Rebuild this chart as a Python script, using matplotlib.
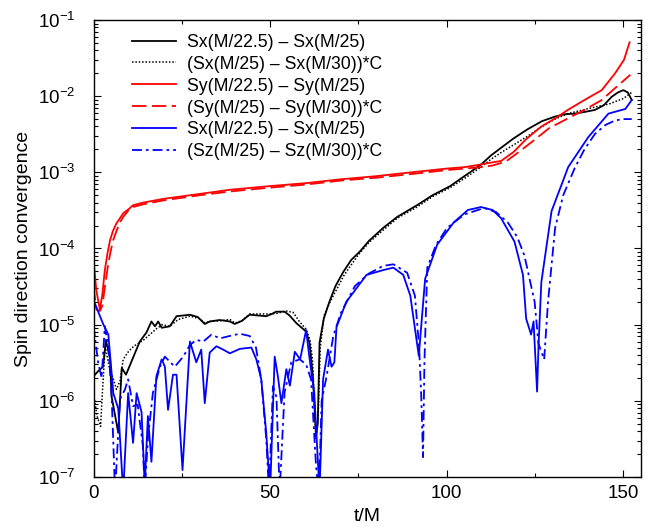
import matplotlib
matplotlib.use("Agg")
import matplotlib.pyplot as plt
from matplotlib.ticker import LogFormatterSciNotation, NullFormatter

plt.rcParams['font.family'] = ['Liberation Sans', 'DejaVu Sans']
plt.rcParams['mathtext.fontset'] = 'custom'
plt.rcParams['mathtext.rm'] = 'Liberation Sans'
plt.rcParams['mathtext.it'] = 'Liberation Sans:italic'
plt.rcParams['mathtext.bf'] = 'Liberation Sans:bold'

# ---------------- data ----------------
labels = [
    "Sx(M/22.5) \u2013 Sx(M/25)",
    "(Sx(M/25) \u2013 Sx(M/30))*C",
    "Sy(M/22.5) \u2013 Sy(M/25)",
    "(Sy(M/25) \u2013 Sy(M/30))*C",
    "Sx(M/22.5) \u2013 Sx(M/25)",
    "(Sz(M/25) \u2013 Sz(M/30))*C",
]

t_sx_a = [0, 1.5, 2.7, 3.5, 4.7, 5.1, 7.0, 8.0, 9.2, 11, 13.1, 15, 16.4, 17.4, 18.3, 19.3,
          21.6, 23.5, 25.5, 27.3, 29.5, 31.5, 32.9, 35.7, 38.6, 40, 42, 44.2, 46.5, 48.9,
          50.5, 51.7, 54.1, 55.5, 57.4, 60.2, 61.2, 62.1, 63.0, 63.5, 64, 65.2, 66.8, 68.5,
          70.7, 73, 75.4, 78, 82, 86, 91.6, 96, 101, 105, 109.7, 112.5, 115.4, 119, 123,
          127, 130.7, 133.5, 136.3, 139, 142, 144.5, 146.7, 148.5, 150, 151.3, 152.4]
sx_a = [2.1e-6, 2.5e-6, 2.8e-6, 6.3e-6, 3.5e-6, 1.15e-6, 3.8e-7, 2.7e-6, 2.2e-6, 3.5e-6,
        6.0e-6, 7.9e-6, 1.10e-5, 9.5e-6, 1.10e-5, 9.1e-6, 9.5e-6, 1.29e-5, 1.32e-5, 1.35e-5,
        1.26e-5, 1.02e-5, 1.10e-5, 1.15e-5, 1.10e-5, 1.02e-5, 1.12e-5, 1.35e-5, 1.32e-5,
        1.29e-5, 1.38e-5, 1.48e-5, 1.48e-5, 1.32e-5, 1.05e-5, 8.1e-6, 5.6e-6, 2.1e-6,
        3.4e-7, 5.0e-7, 5.8e-6, 1.20e-5, 2.0e-5, 3.2e-5, 4.9e-5, 7.1e-5, 9.1e-5, 1.26e-4,
        1.86e-4, 2.6e-4, 3.7e-4, 5.0e-4, 6.6e-4, 8.9e-4, 1.26e-3, 1.66e-3, 2.1e-3, 2.8e-3,
        3.7e-3, 4.7e-3, 5.4e-3, 5.8e-3, 5.9e-3, 6.2e-3, 6.6e-3, 7.6e-3, 9.8e-3, 1.12e-2,
        1.20e-2, 1.12e-2, 8.9e-3]

t_sx_b = [0, 1.0, 2.0, 2.5, 3.3, 4.5, 5.5, 6.5, 7.5, 8.4, 10, 11.4, 14.2, 17.9, 19.5, 21.6,
          24, 27.3, 30, 31.5, 33, 35.7, 38.6, 40, 42, 44.2, 48, 50, 52, 54.5, 56.5, 58.3,
          60.2, 61.3, 62.0, 63.0, 63.6, 64.2, 65.3, 67, 69, 71, 75, 78, 82, 86, 91.6, 96,
          101, 105, 109.7, 112.5, 115.4, 119, 123, 127, 130.7, 134.3, 138, 142, 146, 150, 152.4]
sx_b = [1.26e-6, 6.3e-7, 4.6e-7, 1.26e-6, 5.2e-6, 2.7e-6, 2.0e-6, 1.41e-6, 1.82e-6, 3.5e-6,
        4.5e-6, 5.2e-6, 6.3e-6, 8.9e-6, 1.0e-5, 9.5e-6, 1.17e-5, 1.29e-5, 1.20e-5, 1.05e-5,
        1.10e-5, 1.12e-5, 1.17e-5, 1.05e-5, 1.12e-5, 1.38e-5, 1.38e-5, 1.38e-5, 1.41e-5,
        1.51e-5, 1.45e-5, 1.10e-5, 8.7e-6, 6.3e-6, 3.5e-6, 3.2e-7, 6.3e-7, 5.0e-6, 1.32e-5,
        2.0e-5, 3.0e-5, 4.5e-5, 8.3e-5, 1.20e-4, 1.74e-4, 2.5e-4, 3.5e-4, 4.8e-4, 6.3e-4,
        8.3e-4, 1.17e-3, 1.48e-3, 1.82e-3, 2.3e-3, 3.0e-3, 4.0e-3, 5.0e-3, 5.9e-3, 6.5e-3,
        7.2e-3, 7.9e-3, 9.3e-3, 1.12e-2]

t_sy_a = [0, 0.8, 1.8, 2.5, 3.2, 4.0, 4.7, 5.5, 6.5, 7.5, 8.4, 10, 11.2, 14, 20, 30, 38.6,
          50, 60, 70, 80, 90, 100, 105, 108, 111.6, 115.4, 119, 122.4, 126.8, 130.7, 134.3,
          139, 143.9, 147.7, 150.2, 151.8]
sy_a = [7.1e-5, 2.8e-5, 1.58e-5, 2.5e-5, 5.2e-5, 8.9e-5, 1.29e-4, 1.70e-4, 2.14e-4, 2.5e-4,
        2.9e-4, 3.3e-4, 3.7e-4, 4.0e-4, 4.5e-4, 5.2e-4, 5.9e-4, 6.6e-4, 7.2e-4, 8.1e-4,
        8.9e-4, 1.0e-3, 1.12e-3, 1.17e-3, 1.23e-3, 1.32e-3, 1.41e-3, 1.86e-3, 2.7e-3,
        4.0e-3, 5.1e-3, 6.6e-3, 8.9e-3, 1.20e-2, 2.0e-2, 3.0e-2, 5.1e-2]

t_sy_b = [0, 0.8, 1.8, 2.5, 3.2, 4.0, 4.7, 5.5, 6.5, 7.5, 8.4, 10, 11.2, 14, 20, 30, 38.6,
          50, 60, 70, 80, 90, 100, 105, 110, 113, 116.7, 120.5, 125, 129, 134.3, 139, 143.9,
          147.8, 152]
sy_b = [3.2e-5, 1.58e-5, 1.51e-5, 1.78e-5, 3.1e-5, 5.6e-5, 8.5e-5, 1.26e-4, 1.70e-4, 2.2e-4,
        2.6e-4, 3.2e-4, 3.5e-4, 3.8e-4, 4.3e-4, 5.0e-4, 5.6e-4, 6.3e-4, 6.9e-4, 7.8e-4,
        8.5e-4, 9.5e-4, 1.07e-3, 1.12e-3, 1.17e-3, 1.23e-3, 1.38e-3, 1.86e-3, 2.7e-3,
        3.8e-3, 5.1e-3, 6.6e-3, 8.9e-3, 1.29e-2, 1.91e-2]

t_sz_a = [0, 1.5, 2.8, 4.2, 5.6, 7.0, 8.4, 9.8, 11.2, 12.2, 13.6, 14.5, 15.4, 16.4, 17.8,
          19.3, 20.2, 21.1, 22.5, 23.5, 25.2, 27.3, 29.1, 30.5, 31.5, 32.9, 34.8, 36.7, 38.6,
          41.4, 43, 44.7, 46.1, 47.5, 48.9, 50, 51.3, 52.2, 53.2, 54.6, 55.6, 57, 58.5, 60.2,
          61.1, 62.5, 64, 65, 66.4, 67.4, 68.2, 68.8, 71.6, 77.3, 82, 84.9, 87.7, 89.7, 92.1,
          93.9, 97.3, 102, 106, 109.7, 113, 115.4, 119.2, 121.6, 122.5, 123.9, 124.6, 125.6,
          126, 126.8, 129.7, 134.4, 140.1, 145.8, 148, 150.6, 152.4]
sz_a = [2.1e-5, 1.41e-5, 1.0e-5, 7.4e-6, 1.26e-6, 7.9e-7, 6.3e-8, 1.26e-6, 2.8e-7, 1.26e-6,
        7.1e-7, 7.9e-8, 6.3e-7, 1.58e-7, 2.1e-6, 3.5e-6, 2.8e-6, 7.6e-7, 2.2e-6, 2.2e-6,
        1.23e-7, 6.0e-6, 3.2e-6, 4.7e-6, 9.3e-7, 4.3e-6, 5.2e-6, 4.7e-6, 4.2e-6, 4.8e-6,
        4.9e-6, 5.0e-6, 3.5e-6, 1.91e-6, 3.8e-7, 6.3e-8, 3.8e-6, 2.1e-6, 9.3e-7, 2.6e-6,
        1.58e-6, 4.4e-6, 3.5e-6, 8.5e-6, 3.8e-6, 1.26e-6, 6.3e-8, 1.91e-6, 4.7e-6, 2.8e-6,
        3.2e-6, 9.3e-6, 2.0e-5, 4.5e-5, 5.2e-5, 5.6e-5, 4.5e-5, 2.4e-5, 3.9e-6, 4.0e-5,
        1.12e-4, 2.2e-4, 3.2e-4, 3.5e-4, 3.2e-4, 2.5e-4, 1.23e-4, 4.5e-5, 1.20e-5, 7.4e-6,
        1.10e-5, 1.32e-6, 5.2e-6, 3.6e-5, 3.1e-4, 1.17e-3, 2.9e-3, 5.9e-3, 6.3e-3, 6.8e-3,
        8.9e-3]

t_sz_b = [0, 1.3, 2.3, 3.2, 4.2, 5.1, 6.1, 7.5, 8.9, 9.8, 11.2, 12.5, 14.0, 14.5, 15.4, 16.8,
          18.8, 20.2, 23, 25.4, 27.3, 29.1, 31.1, 33.4, 35.8, 38.6, 41.4, 44.2, 46, 47.5, 48.9,
          49.7, 50.8, 51.8, 52.7, 54.1, 56, 58.4, 60.2, 61.6, 63, 63.8, 64.6, 66, 67.9, 70, 74,
          78, 82, 84.9, 88.8, 91, 92.2, 92.8, 93.3, 93.7, 94.5, 97, 100.1, 105, 110.6, 114,
          117.3, 120, 122, 124.9, 126, 127.6, 128.7, 130.7, 133, 136.3, 139, 142, 145, 147.7,
          150, 152.4]
sz_b = [9.5e-6, 3.2e-6, 2.0e-6, 9.5e-6, 5.2e-6, 1.26e-6, 6.3e-8, 1.05e-6, 1.41e-6, 1.91e-6,
        8.5e-7, 8.9e-7, 2.5e-7, 6.3e-8, 3.2e-7, 1.26e-6, 2.8e-6, 3.8e-6, 2.8e-6, 3.8e-6,
        5.4e-6, 6.3e-6, 6.0e-6, 7.4e-6, 6.6e-6, 7.1e-6, 7.6e-6, 7.1e-6, 5.0e-6, 1.91e-6,
        3.2e-7, 6.3e-8, 1.55e-6, 1.12e-6, 6.3e-8, 1.29e-6, 3.2e-6, 3.5e-6, 3.0e-6, 1.91e-6,
        1.41e-7, 6.3e-8, 1.0e-6, 2.1e-6, 7.1e-6, 1.41e-5, 3.2e-5, 4.7e-5, 5.9e-5, 6.2e-5,
        4.8e-5, 2.4e-5, 5.0e-6, 1.15e-6, 1.82e-7, 3.2e-6, 5.6e-5, 1.12e-4, 1.86e-4, 2.8e-4,
        3.4e-4, 3.0e-4, 2.2e-4, 1.41e-4, 8.1e-5, 2.0e-5, 5.6e-6, 3.5e-6, 2.0e-5, 1.86e-4,
        5.0e-4, 1.15e-3, 2.0e-3, 3.2e-3, 4.2e-3, 4.8e-3, 5.0e-3, 5.0e-3]

x_ticks = [0, 50, 100, 150]
x_minor_ticks = [25, 75, 125]
y_ticks = [1e-7, 1e-6, 1e-5, 1e-4, 1e-3, 1e-2, 1e-1]

# ---------------- figure ----------------
fig = plt.figure(figsize=(6.54, 5.27), dpi=100)
ax = fig.add_axes([0.143, 0.095, 0.837, 0.867])

lw = 1.3
ax.plot(t_sx_a, sx_a, color='black', lw=lw, ls='-', label=labels[0])
ax.plot(t_sx_b, sx_b, color='black', lw=1.1, ls=(0, (1.0, 1.2)), label=labels[1])
ax.plot(t_sy_a, sy_a, color='#ff0000', lw=lw, ls='-', label=labels[2])
ax.plot(t_sy_b, sy_b, color='#ff0000', lw=lw, ls=(0, (8.0, 3.0)), label=labels[3])
ax.plot(t_sz_a, sz_a, color='#0000ff', lw=lw, ls='-', label=labels[4])
ax.plot(t_sz_b, sz_b, color='#0000ff', lw=lw, ls=(0, (5.5, 2.2, 1.5, 2.2)), label=labels[5])

ax.set_yscale('log')
ax.set_xlim(0, 155)
ax.set_ylim(1e-7, 1e-1)
ax.set_xticks(x_ticks)
ax.set_xticks(x_minor_ticks, minor=True)
ax.set_yticks(y_ticks)
y_minor = [m * d for d in y_ticks[:-1] for m in range(2, 10)]
ax.set_yticks(y_minor, minor=True)
ax.yaxis.set_major_formatter(LogFormatterSciNotation())
ax.yaxis.set_minor_formatter(NullFormatter())
ax.xaxis.set_minor_formatter(NullFormatter())

ax.tick_params(which='both', direction='in', top=True, right=True, labelsize=13.5,
               width=0.8, color='black')
ax.tick_params(which='major', length=5)
ax.tick_params(which='minor', length=3, labelleft=False, labelbottom=False)
ax.tick_params(axis='y', which='major', pad=13)
ax.tick_params(axis='x', which='major', pad=6)
for s in ax.spines.values():
    s.set_linewidth(1.0)

ax.set_xlabel('t/M', fontsize=14, labelpad=4)
ax.set_ylabel('Spin direction convergence', fontsize=14, labelpad=4)

ax.legend(loc='upper left', bbox_to_anchor=(0.070, 0.97), frameon=False, fontsize=12.7,
          handlelength=2.5, handletextpad=0.6, labelspacing=0.28, borderpad=0,
          borderaxespad=0)

fig.savefig('out.png', dpi=100)
